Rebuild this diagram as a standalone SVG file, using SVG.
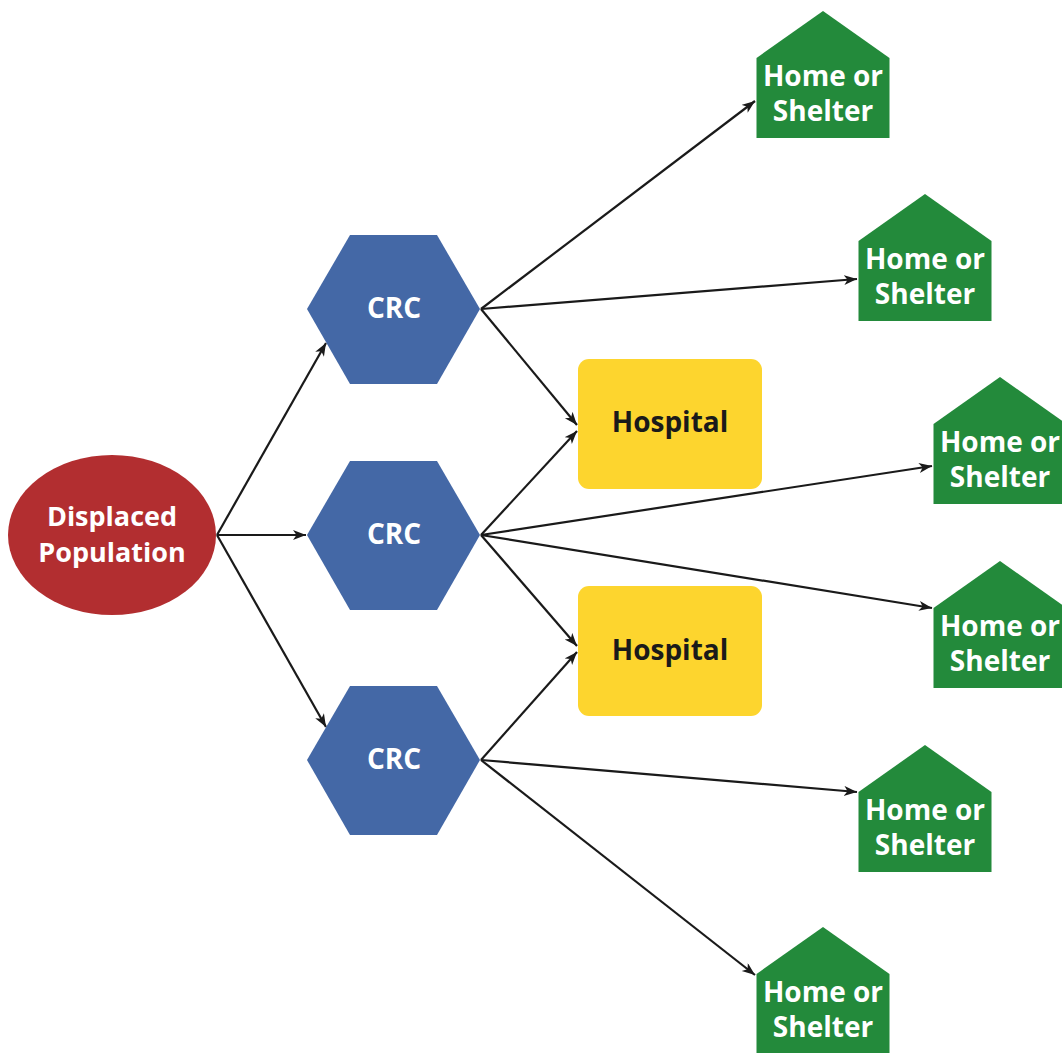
<svg xmlns="http://www.w3.org/2000/svg" width="1062" height="1053" viewBox="0 0 1062 1053">
<defs>
<style>
.t{font-family:"Open Sans","Liberation Sans",sans-serif;font-weight:bold;font-size:28px;text-anchor:middle}
.s{font-size:27px}
.w{fill:#ffffff}
.k{fill:#1a1a1a}
.house{fill:#238a3b}
.crc{fill:#4468a6}
.hosp{fill:#fdd52e}
.pop{fill:#b22e30}
.c line{stroke:#1a1a1a;stroke-width:2.2;fill:none;marker-end:url(#ah)}
</style>
<marker id="ah" markerUnits="userSpaceOnUse" markerWidth="16" markerHeight="12" refX="13" refY="5" orient="auto">
<path d="M0,0 L13,5 L0,10 L3.5,5 z" fill="#1a1a1a"/>
</marker>
<path id="hs" d="M0,0 L66.5,47 L66.5,127 L-66.5,127 L-66.5,47 z"/>
</defs>
<rect width="1062" height="1053" fill="#ffffff"/>
<g class="c" id="connectors">
<line x1="217" y1="535" x2="326" y2="343"/>
<line x1="217" y1="535" x2="306" y2="535"/>
<line x1="217" y1="535" x2="326" y2="727"/>
<line x1="481" y1="309" x2="755" y2="101"/>
<line x1="481" y1="309" x2="857" y2="279"/>
<line x1="481" y1="309" x2="577" y2="425"/>
<line x1="481" y1="535" x2="577" y2="431"/>
<line x1="481" y1="535" x2="932" y2="466"/>
<line x1="481" y1="535" x2="932" y2="608"/>
<line x1="481" y1="535" x2="577" y2="646"/>
<line x1="481" y1="760" x2="577" y2="652"/>
<line x1="481" y1="760" x2="857" y2="792"/>
<line x1="481" y1="760" x2="755" y2="975"/>
</g>
<g id="displaced">
<ellipse class="pop" cx="112" cy="535" rx="104" ry="80"/>
<text class="t s w" x="112" y="526">Displaced</text>
<text class="t s w" x="112" y="562">Population</text>
</g>
<g id="crc1">
<polygon class="crc" points="307,309 350,235 437,235 480,309 437,384 350,384"/>
<text class="t w" x="394" y="318">CRC</text>
</g>
<g id="crc2">
<polygon class="crc" points="307,535 350,461 437,461 480,535 437,610 350,610"/>
<text class="t w" x="394" y="544">CRC</text>
</g>
<g id="crc3">
<polygon class="crc" points="307,760 350,686 437,686 480,760 437,835 350,835"/>
<text class="t w" x="394" y="769">CRC</text>
</g>
<g id="hospital1">
<rect class="hosp" x="578" y="359" width="184" height="130" rx="11"/>
<text class="t k" x="670" y="432">Hospital</text>
</g>
<g id="hospital2">
<rect class="hosp" x="578" y="586" width="184" height="130" rx="11"/>
<text class="t k" x="670" y="660">Hospital</text>
</g>
<g id="home1">
<use href="#hs" class="house" x="823" y="11"/>
<text class="t w" x="823" y="86">Home or</text>
<text class="t w" x="823" y="121">Shelter</text>
</g>
<g id="home2">
<use href="#hs" class="house" x="925" y="194"/>
<text class="t w" x="925" y="269">Home or</text>
<text class="t w" x="925" y="304">Shelter</text>
</g>
<g id="home3">
<use href="#hs" class="house" x="1000" y="377"/>
<text class="t w" x="1000" y="452">Home or</text>
<text class="t w" x="1000" y="487">Shelter</text>
</g>
<g id="home4">
<use href="#hs" class="house" x="1000" y="561"/>
<text class="t w" x="1000" y="636">Home or</text>
<text class="t w" x="1000" y="671">Shelter</text>
</g>
<g id="home5">
<use href="#hs" class="house" x="925" y="745"/>
<text class="t w" x="925" y="820">Home or</text>
<text class="t w" x="925" y="855">Shelter</text>
</g>
<g id="home6">
<use href="#hs" class="house" x="823" y="927"/>
<text class="t w" x="823" y="1002">Home or</text>
<text class="t w" x="823" y="1037">Shelter</text>
</g>
</svg>
